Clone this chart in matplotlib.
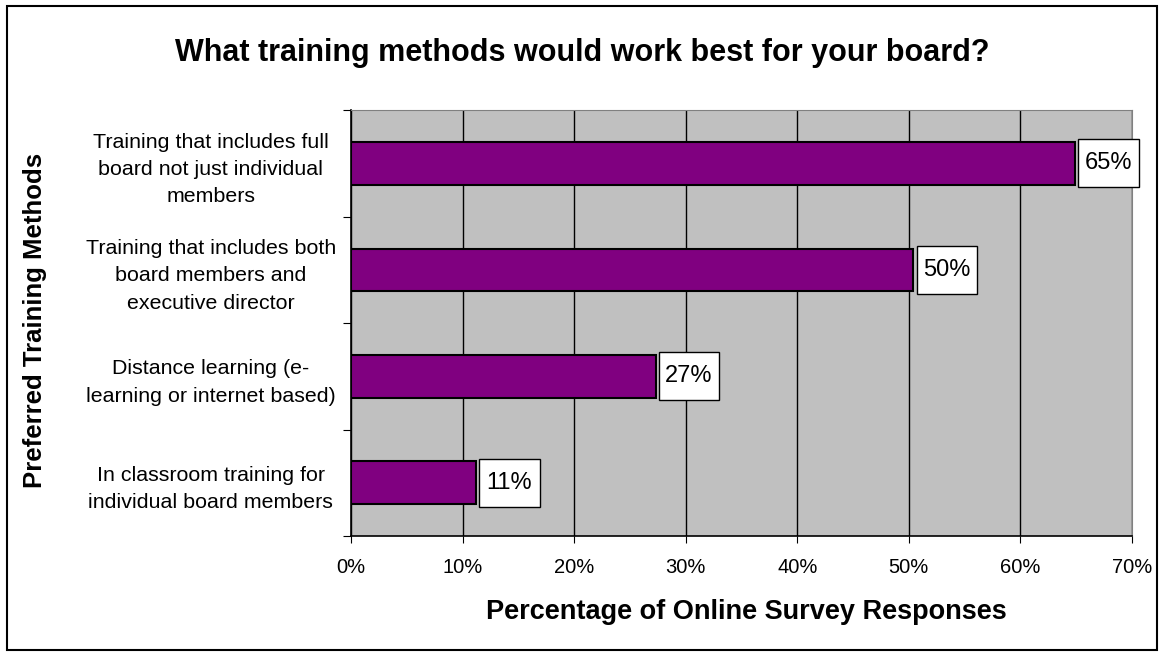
import matplotlib
matplotlib.use('Agg')
import matplotlib.pyplot as plt
from matplotlib.patches import Rectangle
import numpy as np

plt.rcParams['font.family'] = ['Liberation Sans', 'DejaVu Sans']

methods = [
    "Training that includes full\nboard not just individual\nmembers",
    "Training that includes both\nboard members and\nexecutive director",
    "Distance learning (e-\nlearning or internet based)",
    "In classroom training for\nindividual board members",
]
percent = [64.9, 50.4, 27.3, 11.2]
xticks = [0, 10, 20, 30, 40, 50, 60, 70]

fig = plt.figure(figsize=(11.64, 6.56), dpi=100)
ax = fig.add_axes([0.3015, 0.183, 0.671, 0.649])

# outer frame around the whole chart
fig.patches.append(Rectangle((7 / 1164, 6 / 656), 1150 / 1164, 644 / 656,
                             transform=fig.transFigure, fill=False,
                             edgecolor='black', linewidth=1.5))

ax.set_facecolor('#C0C0C0')
y = np.arange(len(methods))
ax.barh(y, percent, height=0.4, color='#800080', edgecolor='black',
        linewidth=1.5, zorder=3)

# value labels in white boxes just right of each bar
box_w, box_h, gap = 5.4, 0.45, 0.3
for yi, v in zip(y, percent):
    ax.add_patch(Rectangle((v + gap, yi - box_h / 2), box_w, box_h,
                           facecolor='white', edgecolor='black', linewidth=1,
                           zorder=4, clip_on=False))
    ax.text(v + gap + box_w / 2, yi, f"{v:.0f}%", ha='center', va='center',
            fontsize=17, zorder=5, clip_on=False)

ax.set_xlim(0, 70)
ax.set_ylim(3.5, -0.5)
ax.set_xticks(xticks)
ax.set_xticklabels([f"{t}%" for t in xticks], fontsize=14.5)
ax.xaxis.grid(True, color='black', linewidth=1, zorder=1)
ax.tick_params(axis='x', length=5, pad=11)

# category boundaries get tick marks, centres get the labels
ax.set_yticks(np.arange(-0.5, len(methods), 1.0))
ax.set_yticklabels([])
ax.set_yticks(y, minor=True)
ax.set_yticklabels(methods, minor=True, fontsize=15.4, ha='center',
                   linespacing=1.55)
ax.tick_params(axis='y', which='major', length=6)
ax.tick_params(axis='y', which='minor', length=0, pad=101)

for side in ['top', 'right']:
    ax.spines[side].set_color('#808080')
ax.spines['left'].set_linewidth(1.2)
ax.spines['bottom'].set_linewidth(1.2)

fig.text(0.6415, 1 - 612 / 656, "Percentage of Online Survey Responses",
         fontsize=19.5, fontweight='bold', ha='center', va='center')
fig.text(0.030, 0.512, "Preferred Training Methods", rotation=90, fontsize=18.5,
         fontweight='bold', ha='center', va='center')
fig.text(0.5, 0.919, "What training methods would work best for your board?",
         fontsize=22, fontweight='bold', ha='center', va='center')

fig.savefig('out.png', dpi=100)
